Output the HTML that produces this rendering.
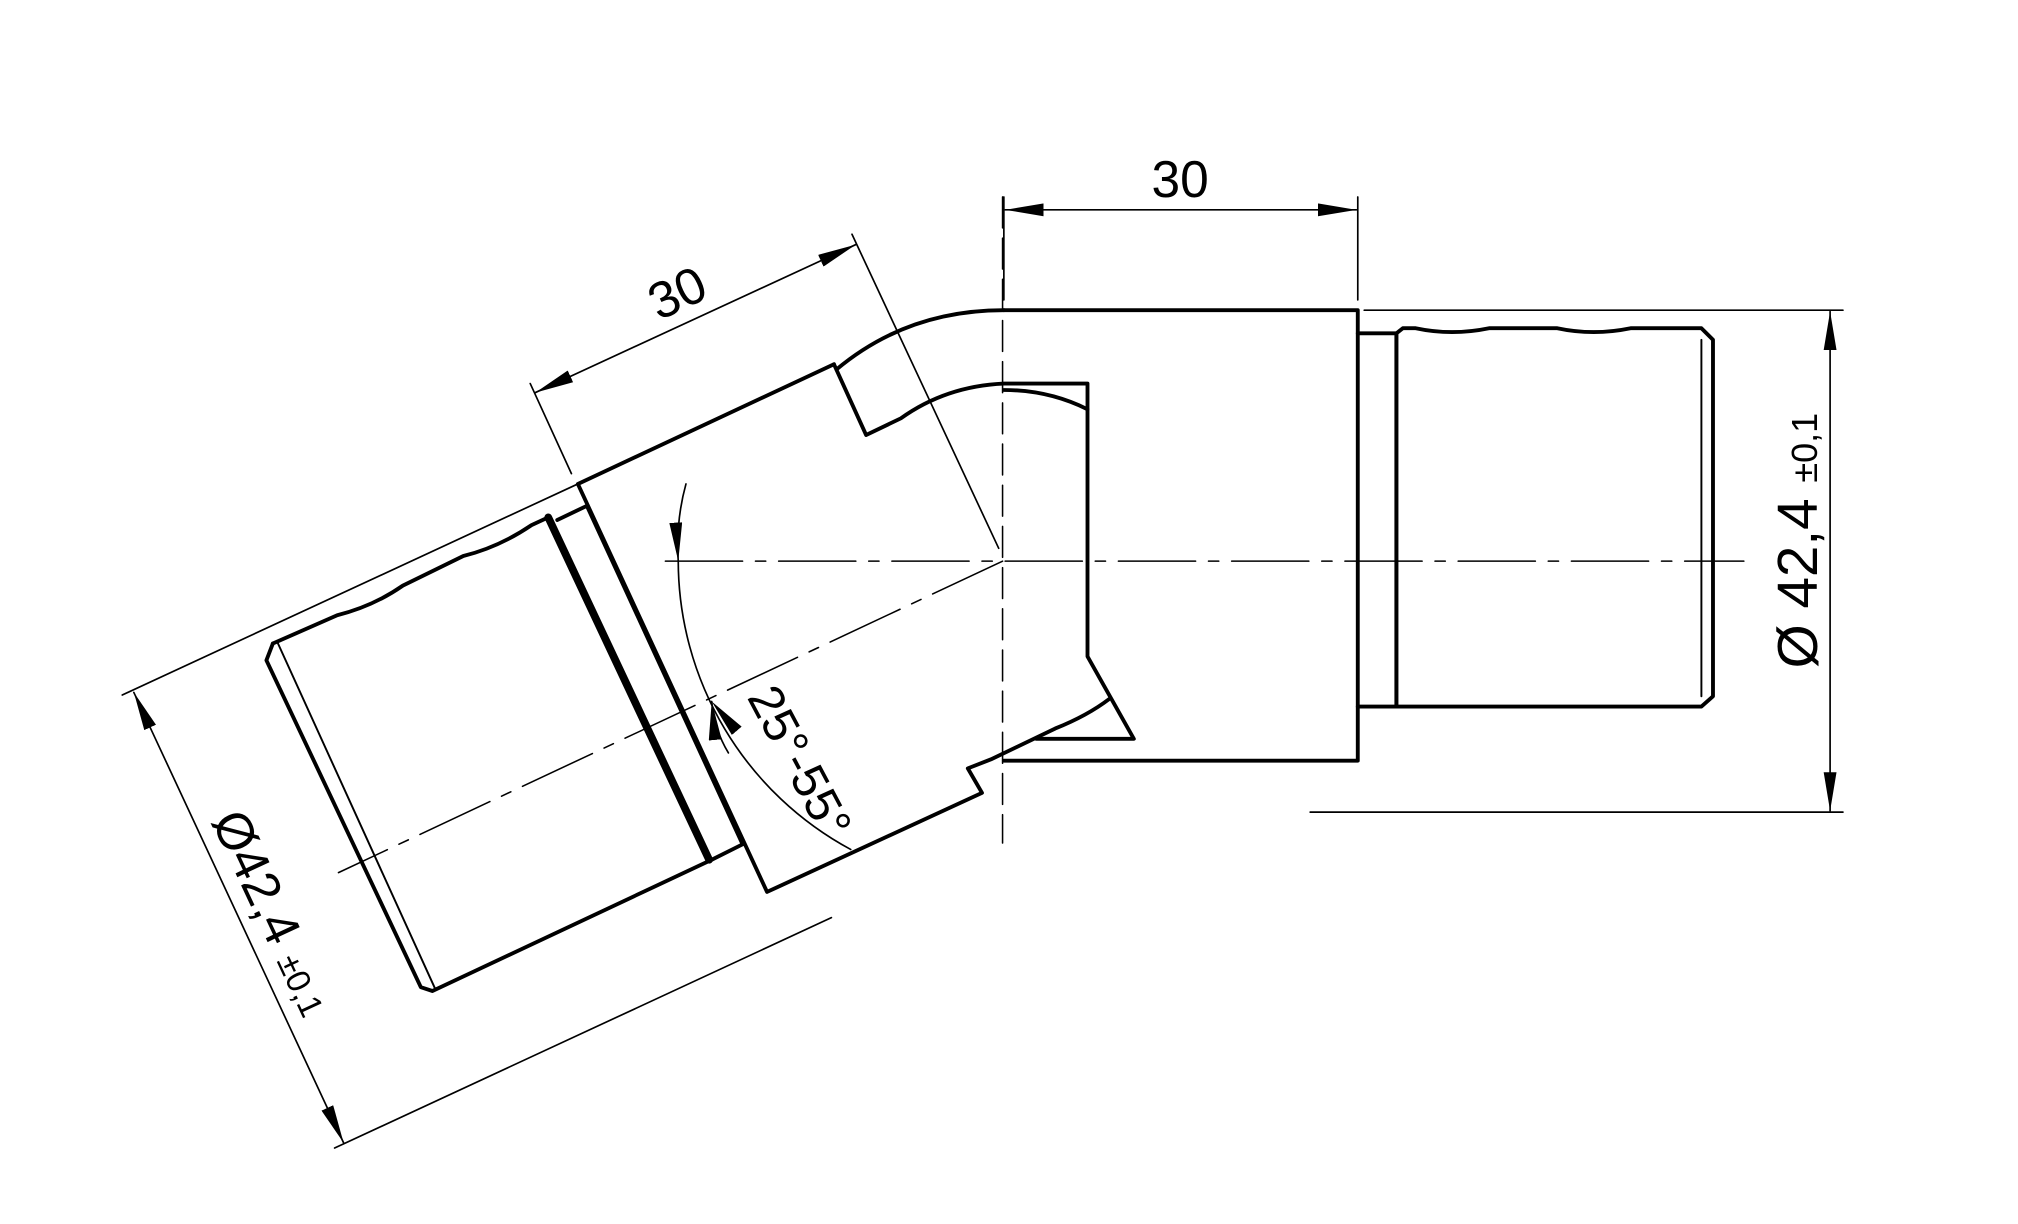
<!DOCTYPE html>
<html><head><meta charset="utf-8"><style>html,body{margin:0;padding:0;background:#fff}svg{display:block}</style></head>
<body>
<svg width="2018" height="1224" viewBox="0 0 1568 951" xmlns="http://www.w3.org/2000/svg">
<defs>
<marker id="a" viewBox="0 0 30 10" refX="30" refY="5" markerWidth="30" markerHeight="10" markerUnits="userSpaceOnUse" orient="auto-start-reverse"><path d="M0,0 L30,5 L0,10 z" fill="#000"/></marker>
</defs>
<g fill="none" stroke="#000" stroke-linejoin="round" stroke-linecap="round">
<!-- thick outlines -->
<g stroke-width="3">
<path d="M780,241 H1055 V591 H780"/>
<path d="M1055,259 H1085 M1055,549 H1085"/>
<path d="M1085,259 L1090,255 H1100 Q1128,261 1157,255 H1210 Q1238,261 1267,255 H1322 L1331,264 V541 L1322,549 H1085 Z"/>
<path d="M1085,259 V549"/>
<path d="M650,287 Q705,241 780,241"/>
<path d="M648,283 L673,338 L700,325 Q735,300 780,298 H845 V510 L881,574 H805"/>
<path d="M780,303 Q815,303 845,318"/>
<path d="M862,543 Q845,556 820,566 L770,590 L752,597 L763,616 L596,693 L449,376 L648,283"/>
<path d="M433,404 L456,393 L577,656 L553,668"/>
<path d="M426,402 L551,668" stroke-width="6"/>
<path d="M212,500 L262,478 Q290,471 313,455 L360,432 Q388,425 413,408 L426,402"/>
<path d="M212,500 L207,513 L327,767 L336,770 L553,668"/>
</g>
<path d="M216,500 L338,768 M1322,264 V541" stroke-width="1.5"/>
<!-- centerlines -->
<g stroke-width="1.2">
<path d="M517,436 H1355" stroke-dasharray="60,10,8,10"/>
<path d="M779,153 V655" stroke-dasharray="24,8"/>
<path d="M779,436 L263,678" stroke-dasharray="60,10,8,10"/>
</g>
<!-- dimensions -->
<g stroke-width="1.3">
<path d="M780,153 V233 M1055,153 V233"/>
<path d="M781,163 H1054" marker-start="url(#a)" marker-end="url(#a)"/>
<path d="M412,298 L444,368 M662,182 L776,426"/>
<path d="M416,305 L665,190" marker-start="url(#a)" marker-end="url(#a)"/>
<path d="M1060,241 H1432 M1018,631 H1432"/>
<path d="M1422,242 V630" marker-start="url(#a)" marker-end="url(#a)"/>
<path d="M95,540 L449,376 M260,892 L646,713"/>
<path d="M104,538 L267,888" marker-start="url(#a)" marker-end="url(#a)"/>
<path d="M533,376 Q525,405 527,436" marker-end="url(#a)"/>
<path d="M527,436 A255,255 0 0 0 661,660"/>
<path d="M600,600 L553,545" marker-end="url(#a)" stroke="none"/>
<path d="M566,585 Q555,567 553,545" marker-end="url(#a)"/>
</g>
</g>
<g font-family="Liberation Sans, sans-serif" fill="#000">
<text x="917" y="153" font-size="40" text-anchor="middle">30</text>
<text transform="translate(532,240) rotate(-25)" font-size="40" text-anchor="middle">30</text>
<text transform="translate(1412,420) rotate(-90)" font-size="44" text-anchor="middle">Ø 42,4 <tspan font-size="28">±0,1</tspan></text>
<text transform="translate(200,715) rotate(65)" font-size="40" text-anchor="middle">Ø42,4 <tspan font-size="26">±0,1</tspan></text>
<text transform="translate(610,598) rotate(62)" font-size="38" text-anchor="middle">25°-55°</text>
</g>
</svg>
</body></html>
